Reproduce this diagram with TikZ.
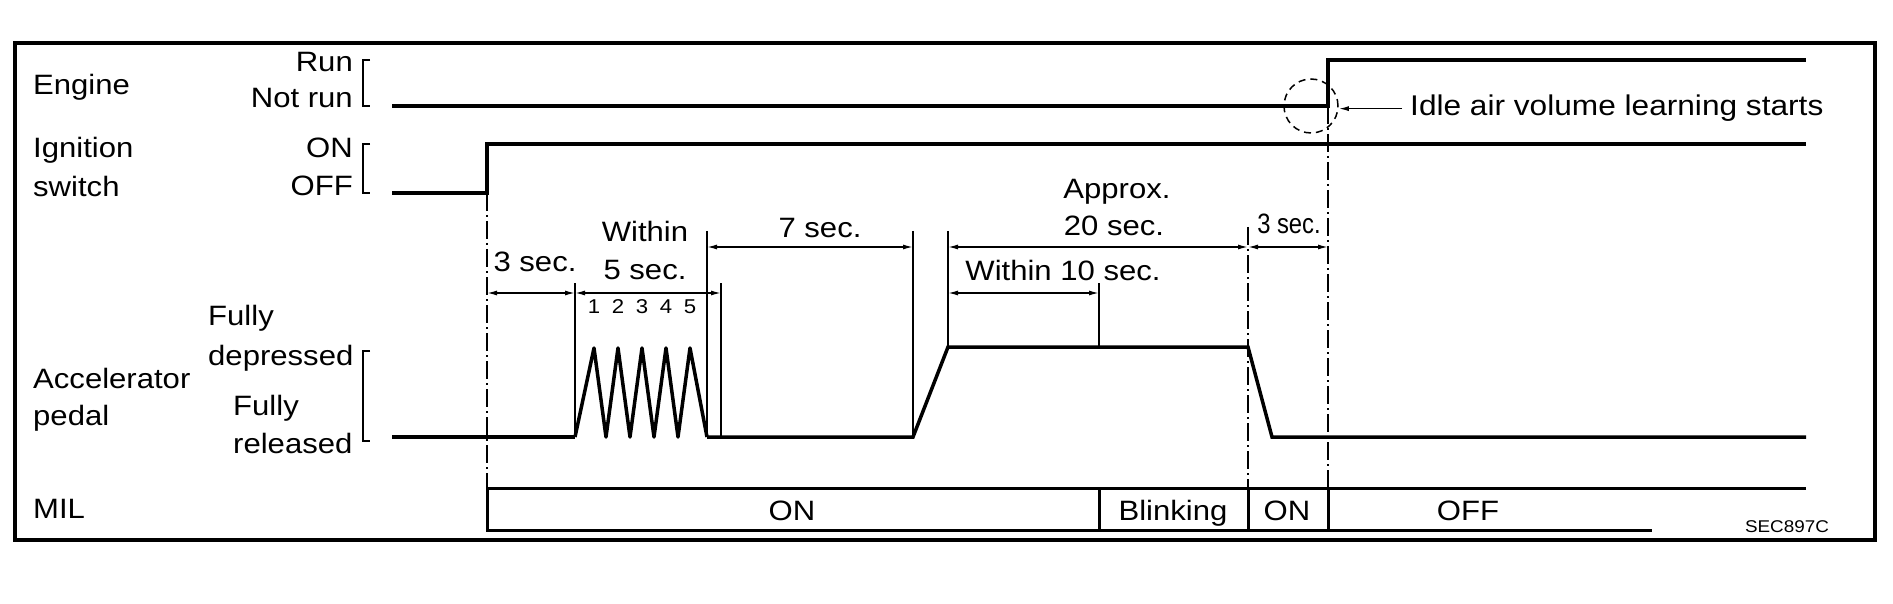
\documentclass[tikz,border=0pt]{standalone}
\usepackage{fontspec}
\setmainfont[FakeStretch=1.11]{Liberation Sans}
\newfontfamily\narrowfont[FakeStretch=0.85]{Liberation Sans}
\usetikzlibrary{arrows.meta}

\begin{document}
\begin{tikzpicture}[x=1pt, y=-1pt,
  signal/.style={line width=3.5pt, line join=miter},
  extline/.style={line width=1.5pt},
  dimline/.style={line width=1.5pt, {Latex[length=10pt,width=5pt]}-{Latex[length=10pt,width=5pt]}},
  dashdot/.style={line width=1.5pt, dash pattern=on 18pt off 4pt on 2pt off 4pt},
  milbox/.style={line width=3pt},
  txt/.style={inner sep=0pt, font=\fontsize{28}{34}\selectfont},
  ]
\useasboundingbox (0,0) rectangle (1893,604);

% frame
\draw [line width=4pt] (15,43) rectangle (1875,540);

% time marks
\coordinate (tstart) at (392,0);
\coordinate (t0) at (487,0);
\coordinate (t1) at (575,0);
\coordinate (t2) at (707,0);
\coordinate (t2b) at (721,0);
\coordinate (t3) at (913,0);
\coordinate (t4) at (948,0);
\coordinate (t5) at (1099,0);
\coordinate (t6) at (1248,0);
\coordinate (t6b) at (1272,0);
\coordinate (t7) at (1328,0);
\coordinate (tmil) at (1652,0);
\coordinate (tend) at (1806,0);
\coordinate (brk) at (363,0);
\coordinate (brktip) at (370,0);

% levels
\coordinate (run) at (0,60);
\coordinate (notrun) at (0,106);
\coordinate (ignon) at (0,144);
\coordinate (ignoff) at (0,193);
\coordinate (dep) at (0,347);
\coordinate (rel) at (0,437);
\coordinate (miltop) at (0,488);
\coordinate (milbot) at (0,530);
\coordinate (dimA) at (0,247);
\coordinate (dimB) at (0,293);
\coordinate (extA) at (0,231);
\coordinate (extB) at (0,283);
\coordinate (extC) at (0,227);

% row labels
\node [txt, anchor=base west] (engine) at (33,95) {Engine};
\node [txt, anchor=base west] (ign1) at (33,158) {Ignition};
\node [txt, anchor=base west] (ign2) at (33,197) {switch};
\node [txt, anchor=base west] (acc1) at (33,388) {Accelerator};
\node [txt, anchor=base west] (acc2) at (33,425) {pedal};
\node [txt, anchor=base west] (mil) at (33,518) {MIL};

% state labels
\node [txt, anchor=base east] (runlbl) at (353,72) {Run};
\node [txt, anchor=base east] (notrunlbl) at (353,108) {Not run};
\node [txt, anchor=base east] (onlbl) at (353,158) {ON};
\node [txt, anchor=base east] (offlbl) at (353,196) {OFF};
\node [txt, anchor=base west] (dep1) at (208,325) {Fully};
\node [txt, anchor=base west] (dep2) at (208,365) {depressed};
\node [txt, anchor=base west] (rel1) at (233,415) {Fully};
\node [txt, anchor=base west] (rel2) at (233,453) {released};

% brackets
\draw [extline] (brktip |- run) -- (brk |- run) -- (brk |- notrun) -- (brktip |- notrun);
\draw [extline] (brktip |- ignon) -- (brk |- ignon) -- (brk |- ignoff) -- (brktip |- ignoff);
\draw [extline] (370,351) -- (363,351) -- (363,441) -- (370,441);

% draw signals
\draw [signal] (tstart |- notrun) -- (t7 |- notrun) -- (t7 |- run) -- (tend |- run);
\draw [signal] (tstart |- ignoff) -- (t0 |- ignoff) -- (t0 |- ignon) -- (tend |- ignon);
\draw [signal] (tstart |- rel) -- (t1 |- rel);
\draw [signal, line join=round] (t1 |- rel)
  -- (594,348) -- (606,437) -- (618,348) -- (630,437) -- (642,348)
  -- (654,437) -- (666,348) -- (678,437) -- (690,348) -- (t2 |- rel);
\draw [signal] (t2 |- rel) -- (t3 |- rel) -- (t4 |- dep) -- (t6 |- dep) -- (t6b |- rel) -- (tend |- rel);

% MIL box
\draw [milbox] (tend |- miltop) -- (t0 |- miltop) -- (t0 |- milbot) -- (tmil |- milbot);
\draw [milbox] (t5 |- miltop) -- (t5 |- milbot);
\draw [milbox] (t6 |- miltop) -- (t6 |- milbot);
\draw [milbox] (t7 |- miltop) -- (t7 |- milbot);

% dash-dot lines
\draw [dashdot] (t0 |- ignoff) -- (t0 |- miltop);
\draw [dashdot] (t6 |- extC) -- (t6 |- miltop);
\draw [dashdot] (t7 |- notrun) -- (t7 |- miltop);

% extension lines
\draw [extline] (t1 |- extB) -- (t1 |- rel);
\draw [extline, line width=2.5pt] (t2 |- extA) -- (t2 |- rel);
\draw [extline] (t2b |- extB) -- (t2b |- rel);
\draw [extline] (t3 |- extA) -- (t3 |- rel);
\draw [extline, line width=2.5pt] (t4 |- extA) -- (t4 |- dep);
\draw [extline] (t5 |- extB) -- (t5 |- dep);

% draw arrows
\draw [dimline] (t0 |- dimB) -- (t1 |- dimB);
\draw [dimline] (t1 |- dimB) -- (t2b |- dimB);
\draw [dimline] (t2 |- dimA) -- (t3 |- dimA);
\draw [dimline] (t4 |- dimA) -- (t6 |- dimA);
\draw [dimline] (t4 |- dimB) -- (t5 |- dimB);
\draw [dimline] (t6 |- dimA) -- (t7 |- dimA);

% add texts
\node [txt, anchor=base] (sec3a) at (535,272) {3 sec.};
\node [txt, anchor=base] (within5a) at (645,242) {Within};
\node [txt, anchor=base] (within5b) at (645,279) {5 sec.};
\node [txt, anchor=base] (sec7) at (820,238) {7 sec.};
\node [txt, anchor=base] (approx1) at (1117,199) {Approx.};
\node [txt, anchor=base] (approx2) at (1114,236) {20 sec.};
\node [txt, anchor=base] (within10) at (1063,280) {Within 10 sec.};
\node [txt, anchor=base, font=\narrowfont\fontsize{28}{34}\selectfont] (sec3b) at (1289,234) {3 sec.};
\node [txt, anchor=base, font=\fontsize{20}{24}\selectfont] (n1) at (594,313) {1};
\node [txt, anchor=base, font=\fontsize{20}{24}\selectfont] (n2) at (618,313) {2};
\node [txt, anchor=base, font=\fontsize{20}{24}\selectfont] (n3) at (642,313) {3};
\node [txt, anchor=base, font=\fontsize{20}{24}\selectfont] (n4) at (666,313) {4};
\node [txt, anchor=base, font=\fontsize{20}{24}\selectfont] (n5) at (690,313) {5};

% MIL states
\node [txt, anchor=base] (milon) at (792,520) {ON};
\node [txt, anchor=base] (milblink) at (1173,520) {Blinking};
\node [txt, anchor=base] (milon2) at (1287,520) {ON};
\node [txt, anchor=base] (miloff) at (1468,520) {OFF};
\node [inner sep=0pt, anchor=base, font=\fontsize{17}{20}\selectfont] (code) at (1787,532) {SEC897C};

% learning start
\node [draw, circle, line width=1.5pt, dash pattern=on 7pt off 5pt, minimum size=54pt, inner sep=0pt] (ring) at (1311,106) {};
\node [txt, anchor=base west, font=\fontsize{28.5}{34}\selectfont] (idle) at (1410,116) {Idle air volume learning starts};
\draw [line width=1.5pt, -{Latex[length=10pt,width=5pt]}, shorten <=8pt] (idle.west) -- (idle.west -| ring.east);

\end{tikzpicture}
\end{document}
